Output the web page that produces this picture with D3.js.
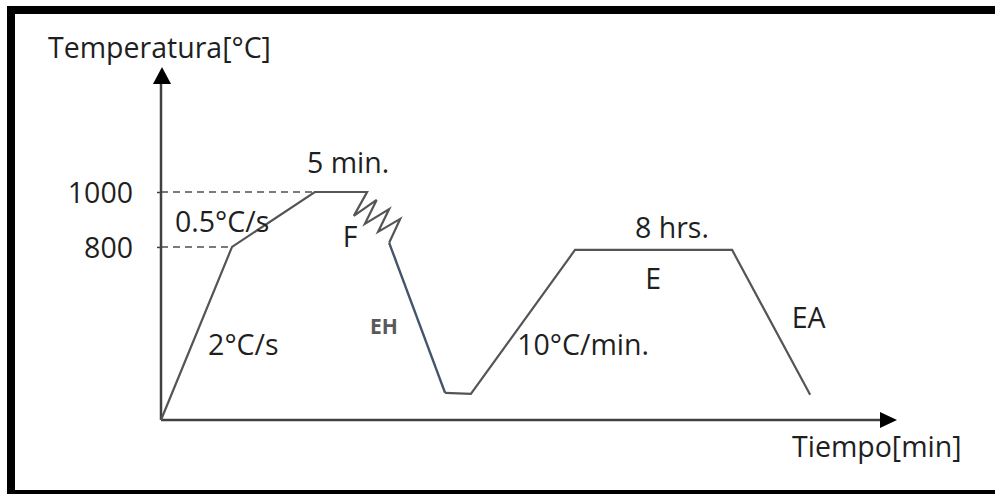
<!DOCTYPE html>
<html>
<head>
<meta charset="utf-8">
<script src="https://cdn.jsdelivr.net/npm/d3@7"></script>
<style>
  body { margin: 0; background: #fff; }
  text { font-family: "Open Sans", Lato, sans-serif; fill: #1f1f1f; }
</style>
</head>
<body>
<div id="chart"></div>
<script>
// heat treatment profile, time in arbitrary units (0-100), temperature in °C
const heatTime = [0, 9.65, 20.9, 28.0, 26.2, 29.3, 27.7, 31.0, 29.5, 32.5, 31.0];
const heatTemp = [170, 800, 1000, 1000, 913, 971, 884, 938, 855, 902, 815];
const quenchTime = [31.0, 38.6];
const quenchTemp = [815, 269];
const temperTime = [38.6, 42.1, 56.25, 77.6, 88.2];
const temperTemp = [269, 265, 789, 789, 262];

const yTicks = [800, 1000];
const dashTime = [9.65, 20.9];   // where the dashed guides meet the curve

const labelText = ["5 min.", "0.5°C/s", "F", "EH", "2°C/s", "10°C/min.", "8 hrs.", "E", "EA"];
const labelTime = [19.84, 1.9, 24.7, 28.4, 6.4, 48.4, 64.4, 65.8, 85.7];
const labelTemp = [1069, 855, 800, 484, 407, 407, 833, 647, 505];

const W = 995, H = 494;
const fs = 28.5;
const svg = d3.select("#chart").append("svg")
    .attr("width", W).attr("height", H);

// frame
svg.append("rect").attr("x", 7).attr("y", 6).attr("width", W).attr("height", 488).attr("fill", "#000");
svg.append("rect").attr("x", 15).attr("y", 14).attr("width", W).attr("height", 476).attr("fill", "#fff");

const x = d3.scaleLinear().domain([0, 100]).range([161, 897]);
const y = d3.scaleLinear().domain([170, 1000]).range([420, 192]);

const axisColor = "#404040";
const lineColor = "#555555";

// dashed guides
yTicks.forEach((t, i) => {
    svg.append("line")
        .attr("x1", x(0)).attr("x2", x(dashTime[i]))
        .attr("y1", y(t)).attr("y2", y(t))
        .attr("stroke", "#7a7a7a").attr("stroke-width", 2)
        .attr("stroke-dasharray", "7,5");
});

// axes with arrows
svg.append("line").attr("x1", x(0)).attr("y1", y(170)).attr("x2", x(0)).attr("y2", 80)
    .attr("stroke", axisColor).attr("stroke-width", 2.5);
svg.append("path").attr("d", "M162,67 L153,84 L171,84 Z").attr("fill", "#000");
svg.append("line").attr("x1", x(0)).attr("y1", y(170)).attr("x2", 884).attr("y2", y(170))
    .attr("stroke", axisColor).attr("stroke-width", 2.5);
svg.append("path").attr("d", "M897,420 L880,412 L880,428 Z").attr("fill", "#000");

const yAxis = svg.append("g")
    .attr("transform", `translate(${x(0)},0)`)
    .call(d3.axisLeft(y).tickValues(yTicks).tickFormat(d3.format("d")).tickSize(4).tickPadding(24));
yAxis.select(".domain").remove();
yAxis.selectAll("line").attr("stroke", axisColor).attr("stroke-width", 1.5);
yAxis.selectAll("text").attr("font-size", fs).attr("font-family", "Open Sans").attr("fill", "#1f1f1f")
    .attr("dy", "0.36em");

// profile
const line = d3.line().x(d => x(d[0])).y(d => y(d[1]));
const heat = heatTime.map((t, i) => [t, heatTemp[i]]);
const quench = quenchTime.map((t, i) => [t, quenchTemp[i]]);
const temper = temperTime.map((t, i) => [t, temperTemp[i]]);

svg.append("path").attr("d", line(heat)).attr("fill", "none")
    .attr("stroke", lineColor).attr("stroke-width", 2.2).attr("stroke-linejoin", "miter");
svg.append("path").attr("d", line(quench)).attr("fill", "none")
    .attr("stroke", "#44546a").attr("stroke-width", 2.4);
svg.append("path").attr("d", line(temper)).attr("fill", "none")
    .attr("stroke", lineColor).attr("stroke-width", 2.2);

// annotations
labelText.forEach((s, i) => {
    const t = svg.append("text")
        .attr("x", x(labelTime[i])).attr("y", y(labelTemp[i]))
        .attr("font-size", fs)
        .text(s);
    if (s === "EH") t.attr("font-size", 21).attr("font-weight", "bold").style("fill", "#595959");
});

// axis titles
svg.append("text").attr("x", 48).attr("y", 58).attr("font-size", fs).text("Temperatura[°C]");
svg.append("text").attr("x", 792).attr("y", 457).attr("font-size", fs).text("Tiempo[min]");
</script>
</body>
</html>
